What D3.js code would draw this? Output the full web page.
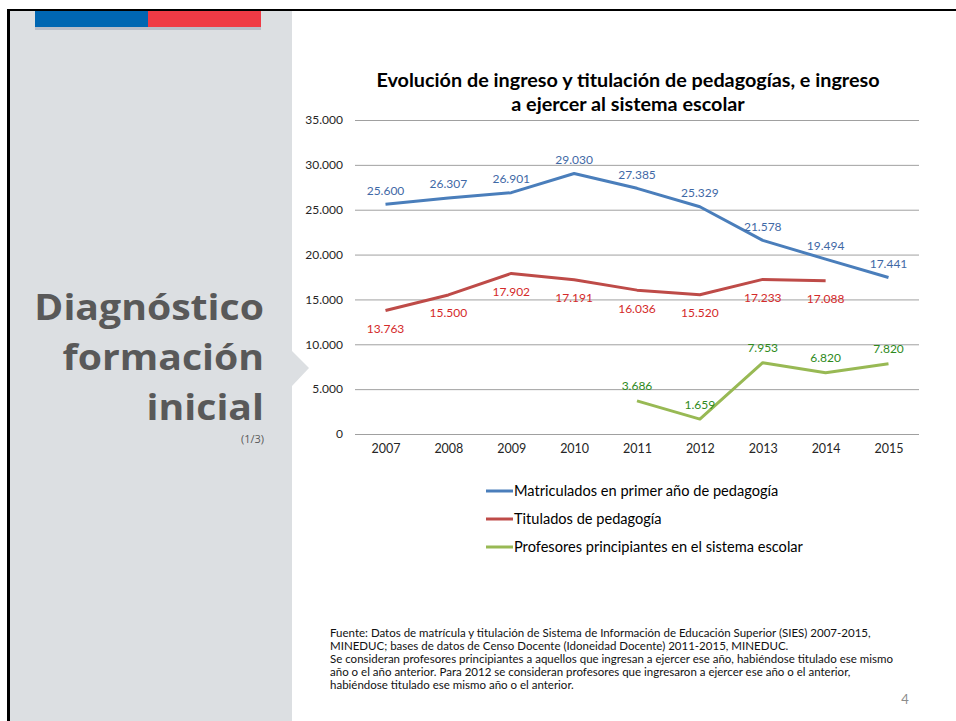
<!DOCTYPE html>
<html>
<head>
<meta charset="utf-8">
<script src="https://cdn.jsdelivr.net/npm/d3@7"></script>
<style>
  body { margin: 0; background: #fff; }
  svg { display: block; }
</style>
</head>
<body>
<script>
// chart data
const years = [2007, 2008, 2009, 2010, 2011, 2012, 2013, 2014, 2015];
const matriculados = [25600, 26307, 26901, 29030, 27385, 25329, 21578, 19494, 17441];
const titulados = [13763, 15500, 17902, 17191, 16036, 15520, 17233, 17088, null];
const principiantes = [null, null, null, null, 3686, 1659, 7953, 6820, 7820];
const yTicks = [0, 5000, 10000, 15000, 20000, 25000, 30000, 35000];
const seriesNames = [
  "Matriculados en primer año de pedagogía",
  "Titulados de pedagogía",
  "Profesores principiantes en el sistema escolar"
];
const titleLines = [
  "Evolución de ingreso y titulación de pedagogías, e ingreso",
  "a ejercer al sistema escolar"
];
const sideTitle = ["Diagnóstico", "formación", "inicial"];
const footnote = [
  "Fuente: Datos de matrícula y titulación de Sistema de Información de Educación Superior (SIES) 2007-2015,",
  "MINEDUC; bases de datos de Censo Docente (Idoneidad Docente) 2011-2015, MINEDUC.",
  "Se consideran profesores principiantes a aquellos que ingresan a ejercer ese año, habiéndose titulado ese mismo",
  "año o el año anterior. Para 2012 se consideran  profesores que ingresaron a ejercer ese año o el anterior,",
  "habiéndose titulado ese mismo año o el anterior."
];

const W = 956, H = 721;
const font = "Lato, 'Liberation Sans', sans-serif";

const svg = d3.select("body").append("svg")
  .attr("width", W).attr("height", H);

// slide frame and side panel
svg.append("rect").attr("x", 9).attr("y", 11).attr("width", 283).attr("height", H - 11).attr("fill", "#dcdfe2");
svg.append("path")
  .attr("d", "M292,351 L309,368 L292,386 Z")
  .attr("fill", "#dcdfe2");
svg.append("line").attr("x1", 8).attr("x2", W).attr("y1", 10).attr("y2", 10)
  .attr("stroke", "#000").attr("stroke-width", 2);
svg.append("line").attr("x1", 8.5).attr("x2", 8.5).attr("y1", 9).attr("y2", H)
  .attr("stroke", "#000").attr("stroke-width", 3);
svg.append("rect").attr("x", 35).attr("y", 26).attr("width", 226).attr("height", 4).attr("fill", "#b9bdc8");
svg.append("rect").attr("x", 35).attr("y", 11).attr("width", 113).attr("height", 16).attr("fill", "#0066b2");
svg.append("rect").attr("x", 148).attr("y", 11).attr("width", 113).attr("height", 16).attr("fill", "#ef3a45");

// side heading, glyphs stretched a little to match the wider original face
svg.append("g")
  .attr("transform", "translate(264,0) scale(1.12,1)")
  .selectAll("text").data(sideTitle).join("text")
  .attr("x", 0).attr("y", (d, i) => 320 + i * 50)
  .attr("text-anchor", "end")
  .attr("font-family", "'Open Sans', 'Noto Sans', sans-serif")
  .attr("font-weight", 700).attr("font-size", 35)
  .attr("fill", "#595959")
  .text(d => d);
svg.append("text").attr("x", 264).attr("y", 443)
  .attr("text-anchor", "end")
  .attr("font-family", "'Open Sans', 'Noto Sans', sans-serif")
  .attr("font-size", 11)
  .attr("fill", "#595959").text("(1/3)");

// title
svg.append("g").selectAll("text").data(titleLines).join("text")
  .attr("x", 628).attr("y", (d, i) => 87 + i * 24)
  .attr("text-anchor", "middle")
  .attr("font-family", font).attr("font-weight", 700).attr("font-size", 19.8)
  .attr("fill", "#000")
  .text(d => d);

// scales
const x = d3.scalePoint().domain(years).range([385.5, 888.5]);
const y = d3.scaleLinear().domain([0, 35000]).range([434, 120]);
const loc = d3.formatLocale({decimal: ",", thousands: ".", grouping: [3], currency: ["", ""]});
const fmt = loc.format(",d");

// grid + y axis
const yAxis = svg.append("g")
  .attr("transform", "translate(355,0)")
  .call(d3.axisLeft(y).tickValues(yTicks).tickSize(-564).tickPadding(12).tickFormat(fmt));
yAxis.select(".domain").remove();
yAxis.selectAll(".tick line").attr("stroke", "#a0a0a0").attr("stroke-width", 1);
yAxis.selectAll(".tick text")
  .attr("font-family", font).attr("font-size", 12).attr("fill", "#262626");

// x axis labels
const xAxis = svg.append("g")
  .attr("transform", "translate(0,434)")
  .call(d3.axisBottom(x).tickSize(0).tickPadding(10).tickFormat(d3.format("d")));
xAxis.select(".domain").remove();
xAxis.selectAll(".tick text")
  .attr("font-family", font).attr("font-size", 12.5).attr("fill", "#262626");

const series = [
  {name: seriesNames[0], values: matriculados, color: "#4a7ebb", label: "#3f69a6", dy: -14},
  {name: seriesNames[1], values: titulados, color: "#be4b48", label: "#d42a2a", dy: 18},
  {name: seriesNames[2], values: principiantes, color: "#98b954", label: "#2e8a1c", dy: -15}
];

const line = d3.line()
  .defined(d => d.v != null)
  .x(d => x(d.year))
  .y(d => y(d.v));

series.forEach(s => {
  const pts = years.map((year, i) => ({year, v: s.values[i]}));
  svg.append("path")
    .datum(pts)
    .attr("fill", "none")
    .attr("stroke", s.color)
    .attr("stroke-width", 3)
    .attr("stroke-linejoin", "round")
    .attr("d", line);
  svg.append("g").selectAll("text")
    .data(pts.filter(d => d.v != null))
    .join("text")
    .attr("x", d => x(d.year))
    .attr("y", d => y(d.v) + s.dy + 4.5)
    .attr("text-anchor", "middle")
    .attr("font-family", font).attr("font-size", 12)
    .attr("fill", s.label)
    .text(d => fmt(d.v));
});

// legend
const legend = svg.append("g").selectAll("g").data(series).join("g")
  .attr("transform", (d, i) => `translate(486,${491 + i * 28})`);
legend.append("line").attr("x1", 0).attr("x2", 27)
  .attr("stroke", d => d.color).attr("stroke-width", 3);
legend.append("text").attr("x", 28).attr("y", 5)
  .attr("font-family", font).attr("font-size", 14.6).attr("fill", "#000")
  .text(d => d.name);

// footnote
svg.append("g").selectAll("text").data(footnote).join("text")
  .attr("x", 330).attr("y", (d, i) => 637 + i * 13)
  .attr("font-family", font).attr("font-size", 11.5).attr("fill", "#111")
  .text(d => d);

svg.append("text").attr("x", 905).attr("y", 704)
  .attr("text-anchor", "middle")
  .attr("font-family", font).attr("font-size", 13).attr("fill", "#8c8c8c")
  .text("4");
</script>
</body>
</html>
